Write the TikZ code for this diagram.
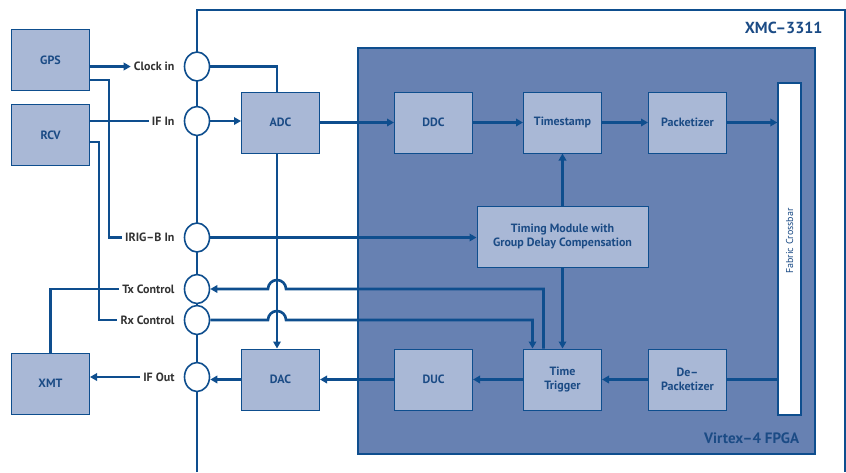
\documentclass[tikz,border=0pt]{standalone}
\usepackage{fontspec}
\setmainfont{PT Sans}
\usetikzlibrary{shapes.geometric,arrows.meta,positioning,calc}
\definecolor{wireblue}{HTML}{0E4E8E}
\definecolor{boxfill}{HTML}{A9B8D6}
\definecolor{fpgafill}{HTML}{6781B2}
\definecolor{textblue}{HTML}{1B4B85}
\definecolor{labelgray}{HTML}{333333}

\begin{document}
\begin{tikzpicture}[
    x=1pt, y=-1pt,
    every node/.style={font=\fontsize{12}{14}\selectfont\bfseries},
    block/.style={rectangle, draw=wireblue, line width=1pt, fill=boxfill, text=textblue, minimum width=78pt, minimum height=61pt, text centered},
    port/.style={ellipse, draw=wireblue, line width=1.6pt, fill=white, minimum width=25pt, minimum height=29pt, inner sep=0pt},
    portlbl/.style={text=labelgray, inner sep=3pt},
    wire/.style={draw=wireblue, line width=2.6pt},
    arr/.style={wire, -{Triangle[length=7pt,width=7.5pt]}},
    frame/.style={draw=wireblue, line width=1.6pt}
]
    \useasboundingbox (0,0) rectangle (846,472);

    % XMC board outline
    \draw[frame] (197,472) -- (197,10) -- (845,10) -- (845,472);
    \node[anchor=base east, text=textblue, font=\fontsize{16}{18}\selectfont\bfseries] (xmclbl) at (826,33) {XMC--3311};

    % FPGA
    \node[rectangle, draw=wireblue, line width=1.4pt, fill=fpgafill, minimum width=457pt, minimum height=406pt] (fpga) at (586.5,251) {};
    \node[anchor=base east, text=textblue, font=\fontsize{15}{18}\selectfont\bfseries] (fpgalbl) at ([xshift=-13pt,yshift=11.5pt]fpga.south east) {Virtex--4 FPGA};

    % External units
    \node[block] (gps) at (50.5,60) {GPS};
    \node[block, below=13pt of gps] (rcv) {RCV};
    \node[block] (xmt) at (50.5,383.5) {XMT};

    % Ports on the board edge
    \node[port] (clkin) at (197,66.5) {};
    \node[port] (ifin) at (197,121) {};
    \node[port] (irig) at (197,237.5) {};
    \node[port] (txc) at (197,289) {};
    \node[port] (rxc) at (197,320) {};
    \node[port] (ifout) at (197,377) {};

    \node[portlbl, left=6pt of clkin] (clkinlbl) {Clock in};
    \node[portlbl, left=6pt of ifin] (ifinlbl) {IF In};
    \node[portlbl, left=6pt of irig] (iriglbl) {IRIG--B In};
    \node[portlbl, left=6pt of txc] (txclbl) {Tx Control};
    \node[portlbl, left=6pt of rxc] (rxclbl) {Rx Control};
    \node[portlbl, left=6pt of ifout] (ifoutlbl) {IF Out};

    % Receive row
    \node[block] (adc) at (280.5,122.5) {ADC};
    \node[block, right=74pt of adc] (ddc) {DDC};
    \node[block, right=50pt of ddc] (tstamp) {Timestamp};
    \node[block, right=46pt of tstamp] (pktz) {Packetizer};

    % Timing
    \node[block, below=52pt of tstamp, minimum width=171pt, align=center] (timing) {Timing Module with\\Group Delay Compensation};

    % Transmit row
    \node[block, below=195pt of adc] (dac) {DAC};
    \node[block, below=195pt of ddc] (duc) {DUC};
    \node[block, below=195pt of tstamp, align=center] (trig) {Time\\Trigger};
    \node[block, below=195pt of pktz, align=center] (depktz) {De--\\Packetizer};

    % Crossbar
    \node[rectangle, draw=wireblue, line width=1.4pt, fill=white, minimum width=23pt, minimum height=332pt] (xbar) at (789.5,249) {};
    \node[rotate=90, text=textblue, font=\fontsize{10}{11}\selectfont] (xbarlbl) at ([yshift=8pt]xbar) {Fabric Crossbar};

    % External wiring
    \draw[arr] (gps.east |- clkinlbl.west) -- (clkinlbl.west);
    \draw[wire] ([yshift=-20pt]gps.east) -- ++(19pt,0) |- (iriglbl.west);
    \draw[wire] (rcv.east |- ifinlbl.west) -- (ifinlbl.west);
    \draw[wire] ([yshift=-7pt]rcv.east) -- ++(9pt,0) |- (rxclbl.west);
    \draw[wire] (xmt.north) |- (txclbl.west);
    \draw[arr] (ifoutlbl.west) -- (xmt.east |- ifoutlbl.west);

    % Clock and IF
    \coordinate (clkx) at ([xshift=-3.5pt]adc.north);
    \draw[wire] (clkin.east) -| (clkx);
    \draw[arr] (ifin.east) -- (ifin.east -| adc.west);
    \draw[arr] ([xshift=-3.5pt]adc.south) -- ([xshift=-3.5pt]dac.north);

    % Receive chain
    \draw[arr] (adc) -- (ddc);
    \draw[arr] (ddc) -- (tstamp);
    \draw[arr] (tstamp) -- (pktz);
    \draw[arr] (pktz.east) -- (pktz.east -| xbar.west);

    % Timing
    \draw[arr] (irig.east) -- (irig.east -| timing.west);
    \draw[arr] (timing) -- (tstamp);
    \draw[arr] (timing) -- (trig);

    % Transmit chain
    \draw[wire] (xbar.west |- depktz.east) -- (depktz.east);
    \draw[arr] (depktz) -- (trig);
    \draw[arr] (trig) -- (duc);
    \draw[arr] (duc) -- (dac);
    \draw[arr] (dac.west) -- (dac.west -| ifout.east);

    % Control lines, hopping over the clock line
    \draw[arr] ([xshift=-19pt]trig.north) |- ($(clkx |- txc.east)+(9pt,0)$) arc[start angle=0, end angle=180, radius=9pt] -- (txc.east);
    \draw[arr] (rxc.east) -- ($(clkx |- rxc.east)+(-9pt,0)$) arc[start angle=180, end angle=0, radius=9pt] -| ([xshift=-30pt]trig.north);
\end{tikzpicture}
\end{document}
